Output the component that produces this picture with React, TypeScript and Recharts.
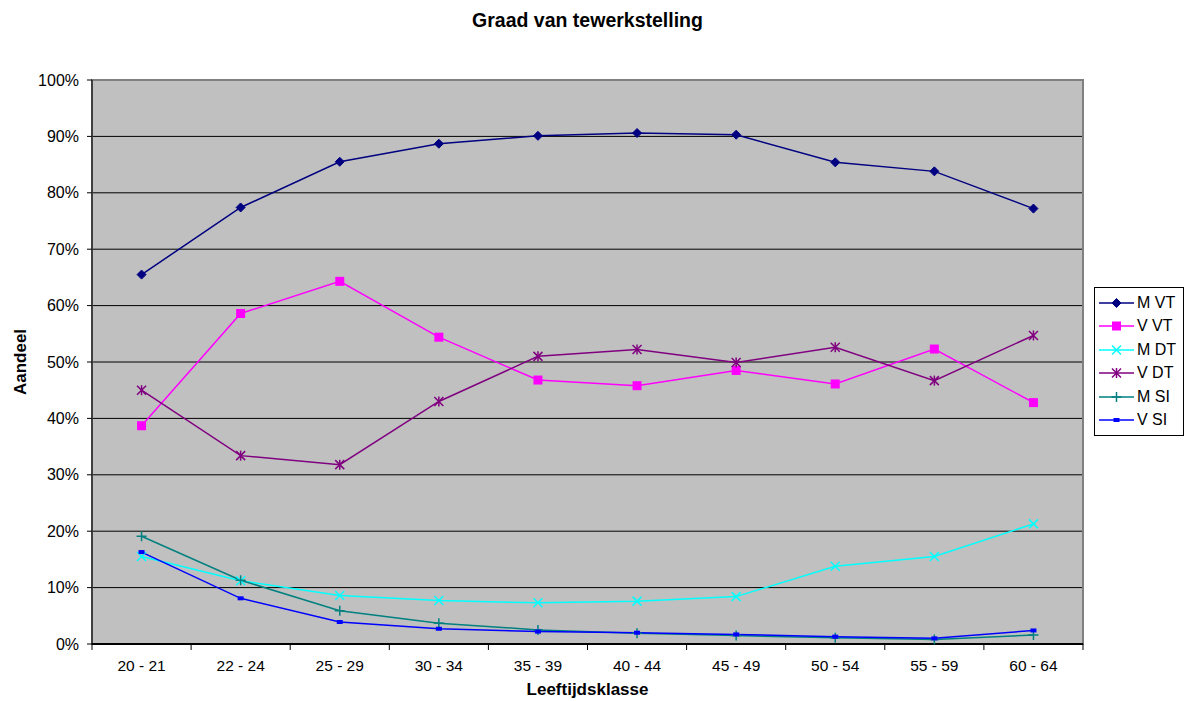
import React from 'react';
import { LineChart, Line, XAxis, YAxis, CartesianGrid, Legend, ReferenceArea } from 'recharts';

const categories = ['20 - 21', '22 - 24', '25 - 29', '30 - 34', '35 - 39', '40 - 44', '45 - 49', '50 - 54', '55 - 59', '60 - 64'];
const mVT = [65.5, 77.4, 85.5, 88.7, 90.1, 90.6, 90.3, 85.4, 83.8, 77.2];
const vVT = [38.7, 58.6, 64.3, 54.4, 46.8, 45.8, 48.5, 46.1, 52.3, 42.8];
const mDT = [15.5, 11.2, 8.6, 7.7, 7.3, 7.6, 8.4, 13.8, 15.5, 21.3];
const vDT = [45.0, 33.4, 31.8, 43.0, 51.0, 52.2, 49.9, 52.6, 46.7, 54.7];
const mSI = [19.1, 11.3, 5.9, 3.7, 2.5, 1.9, 1.5, 1.1, 0.8, 1.6];
const vSI = [16.3, 8.1, 3.9, 2.7, 2.2, 2.0, 1.7, 1.3, 1.0, 2.4];
const yTicks = [0, 10, 20, 30, 40, 50, 60, 70, 80, 90, 100];

const data = categories.map((c, i) => ({
  cat: c, mVT: mVT[i], vVT: vVT[i], mDT: mDT[i], vDT: vDT[i], mSI: mSI[i], vSI: vSI[i],
}));

const FONT = '"Liberation Sans", Arial, sans-serif';
const W = 1185, H = 701;
const LEGEND_W = 90;
const M = { top: 80, right: 102 - LEGEND_W, bottom: 27, left: 42 };
const Y_W = 50;
const plotW = W - M.left - Y_W - (M.right + LEGEND_W);
const band = plotW / categories.length;

type MarkerKind = 'diamond' | 'square' | 'x' | 'asterisk' | 'plus' | 'smallsq';

const Marker = ({ kind, cx, cy, color }: { kind: MarkerKind; cx: number; cy: number; color: string }) => {
  switch (kind) {
    case 'diamond':
      return <polygon points={`${cx},${cy - 4.5} ${cx + 4.5},${cy} ${cx},${cy + 4.5} ${cx - 4.5},${cy}`} fill={color} stroke={color} />;
    case 'square':
      return <rect x={cx - 4.5} y={cy - 4.5} width={9} height={9} fill={color} />;
    case 'x':
      return (
        <g stroke={color} strokeWidth={1.5}>
          <line x1={cx - 4.5} y1={cy - 4.5} x2={cx + 4.5} y2={cy + 4.5} />
          <line x1={cx - 4.5} y1={cy + 4.5} x2={cx + 4.5} y2={cy - 4.5} />
        </g>
      );
    case 'asterisk':
      return (
        <g stroke={color} strokeWidth={1.5}>
          <line x1={cx - 4.5} y1={cy - 4.5} x2={cx + 4.5} y2={cy + 4.5} />
          <line x1={cx - 4.5} y1={cy + 4.5} x2={cx + 4.5} y2={cy - 4.5} />
          <line x1={cx} y1={cy - 5} x2={cx} y2={cy + 5} />
        </g>
      );
    case 'plus':
      return (
        <g stroke={color} strokeWidth={1.5}>
          <line x1={cx - 5} y1={cy} x2={cx + 5} y2={cy} />
          <line x1={cx} y1={cy - 5} x2={cx} y2={cy + 5} />
        </g>
      );
    default:
      return <rect x={cx - 3} y={cy - 2} width={6} height={4} fill={color} />;
  }
};

const series: { key: string; name: string; color: string; kind: MarkerKind }[] = [
  { key: 'mVT', name: 'M VT', color: '#000080', kind: 'diamond' },
  { key: 'vVT', name: 'V VT', color: '#FF00FF', kind: 'square' },
  { key: 'mDT', name: 'M DT', color: '#00FFFF', kind: 'x' },
  { key: 'vDT', name: 'V DT', color: '#800080', kind: 'asterisk' },
  { key: 'mSI', name: 'M SI', color: '#008080', kind: 'plus' },
  { key: 'vSI', name: 'V SI', color: '#0000FF', kind: 'smallsq' },
];

const makeDot = (kind: MarkerKind, color: string) => (props: any) => {
  const { cx, cy, index } = props;
  if (cx == null || cy == null) return <g key={index} />;
  return <Marker key={index} kind={kind} cx={cx} cy={cy} color={color} />;
};

const XTick = (props: any) => {
  const { x, y, payload, index } = props;
  return (
    <g>
      <line x1={x - band / 2} y1={y - 8} x2={x - band / 2} y2={y - 2} stroke="#000" />
      {index === categories.length - 1 && (
        <line x1={x + band / 2} y1={y - 8} x2={x + band / 2} y2={y - 2} stroke="#000" />
      )}
      <text x={x} y={y + 19} textAnchor="middle" fontFamily={FONT} fontSize={15.5} fill="#000">{payload.value}</text>
    </g>
  );
};

const LegendContent = () => (
  <div style={{ border: '1px solid #000', background: '#fff', width: 90, padding: '3px 0 3px 0', boxSizing: 'border-box' }}>
    {series.map((s) => (
      <div key={s.key} style={{ display: 'flex', alignItems: 'center', height: 23.5 }}>
        <svg width={38} height={16} style={{ marginLeft: 2 }}>
          <line x1={2} y1={8} x2={37} y2={8} stroke={s.color} strokeWidth={1.5} />
          <Marker kind={s.kind} cx={19.5} cy={8} color={s.color} />
        </svg>
        <span style={{ fontFamily: FONT, fontSize: 16, color: '#000', marginLeft: 2, whiteSpace: 'nowrap' }}>{s.name}</span>
      </div>
    ))}
  </div>
);

export default function App() {
  return (
    <div style={{ position: 'absolute', left: 0, top: 0, width: W, height: H, background: '#fff' }}>
      <div style={{ position: 'absolute', left: M.left + Y_W, width: plotW, top: 9, textAlign: 'center', fontFamily: FONT, fontWeight: 'bold', fontSize: 19.5, color: '#000' }}>
        Graad van tewerkstelling
      </div>
      <LineChart width={W} height={H} data={data} margin={M}>
        <CartesianGrid vertical={false} stroke="#000" strokeWidth={1} fill="#C0C0C0" />
        <ReferenceArea y1={0} y2={100} fill="none" stroke="#808080" strokeWidth={2} ifOverflow="extendDomain" />
        <XAxis
          dataKey="cat"
          scale="band"
          axisLine={{ stroke: '#000', strokeWidth: 2 }}
          tickLine={false}
          tick={<XTick />}
          height={30}
          interval={0}
          label={{ value: 'Leeftijdsklasse', position: 'insideBottom', offset: -21, style: { fontFamily: FONT, fontWeight: 'bold', fontSize: 17, fill: '#000' } }}
        />
        <YAxis
          domain={[0, 100]}
          ticks={yTicks}
          width={Y_W}
          tickFormatter={(v: number) => `${v}%`}
          axisLine={{ stroke: '#000' }}
          tickLine={{ stroke: '#000' }}
          tickSize={5}
          tickMargin={8}
          tick={{ fontFamily: FONT, fontSize: 16, fill: '#000' }}
          label={{ value: 'Aandeel', angle: -90, position: 'insideLeft', offset: -22, style: { fontFamily: FONT, fontWeight: 'bold', fontSize: 17, fill: '#000', textAnchor: 'middle' } }}
          interval={0}
        />
        <Legend
          layout="vertical"
          verticalAlign="top"
          align="right"
          content={<LegendContent />}
          wrapperStyle={{ left: 1094, top: 287, width: LEGEND_W }}
        />
        {series.map((s) => (
          <Line
            key={s.key}
            type="linear"
            dataKey={s.key}
            name={s.name}
            stroke={s.color}
            strokeWidth={1.5}
            dot={makeDot(s.kind, s.color)}
            activeDot={false}
            isAnimationActive={false}
          />
        ))}
      </LineChart>
    </div>
  );
}
